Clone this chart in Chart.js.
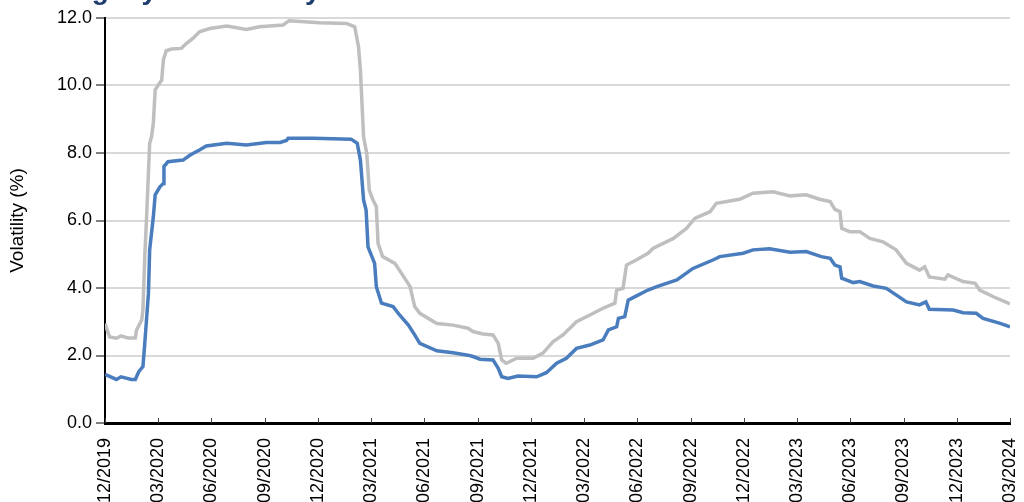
<!DOCTYPE html>
<html>
<head>
<meta charset="utf-8">
<script src="https://cdn.jsdelivr.net/npm/chart.js@4.4.1/dist/chart.umd.min.js"></script>
<style>
  html, body { margin: 0; padding: 0; background: #ffffff; overflow: hidden; }
  #wrap { width: 1024px; height: 502px; position: relative; }
</style>
</head>
<body>
<div id="wrap"><canvas id="c" width="1024" height="502"></canvas></div>
<script>
const titleText = 'Rolling 1-year volatility';
const yAxisTitle = 'Volatility (%)';
const tickLabels = ['12/2019','03/2020','06/2020','09/2020','12/2020','03/2021','06/2021','09/2021','12/2021','03/2022','06/2022','09/2022','12/2022','03/2023','06/2023','09/2023','12/2023','03/2024'];
const yTicks = [0, 2, 4, 6, 8, 10, 12];

const grayDates = ['2019-12-01','2019-12-09','2019-12-21','2019-12-29','2020-01-10','2020-01-23','2020-01-25','2020-02-03','2020-02-05','2020-02-08','2020-02-11','2020-02-16','2020-02-19','2020-02-22','2020-02-25','2020-03-01','2020-03-07','2020-03-10','2020-03-15','2020-03-24','2020-04-10','2020-04-19','2020-04-30','2020-05-11','2020-05-29','2020-06-27','2020-07-31','2020-08-23','2020-10-02','2020-10-10','2020-10-13','2020-12-04','2021-01-20','2021-02-03','2021-02-09','2021-02-12','2021-02-17','2021-02-22','2021-02-26','2021-03-04','2021-03-10','2021-03-13','2021-03-21','2021-04-11','2021-04-22','2021-05-07','2021-05-15','2021-05-24','2021-06-22','2021-07-20','2021-08-15','2021-08-24','2021-09-10','2021-09-27','2021-10-06','2021-10-12','2021-10-20','2021-11-07','2021-12-05','2021-12-22','2022-01-09','2022-01-26','2022-02-17','2022-03-11','2022-04-03','2022-04-23','2022-04-26','2022-05-07','2022-05-13','2022-05-30','2022-06-19','2022-06-28','2022-08-02','2022-08-25','2022-09-08','2022-10-04','2022-10-15','2022-11-24','2022-12-17','2023-01-21','2023-02-18','2023-03-17','2023-04-09','2023-04-27','2023-05-05','2023-05-14','2023-05-17','2023-05-31','2023-06-17','2023-07-04','2023-07-27','2023-08-19','2023-09-06','2023-09-28','2023-10-07','2023-10-15','2023-11-11','2023-11-16','2023-12-12','2024-01-02','2024-01-10','2024-02-03','2024-03-01'];
const grayValues = [2.95,2.55,2.51,2.58,2.52,2.52,2.75,3.05,3.35,4.93,6.11,8.29,8.48,8.88,9.87,10.01,10.16,10.76,11.03,11.08,11.10,11.25,11.40,11.59,11.69,11.76,11.66,11.74,11.79,11.89,11.92,11.86,11.84,11.74,11.15,10.46,8.48,7.99,6.90,6.61,6.41,5.32,4.93,4.73,4.44,4.04,3.45,3.25,2.95,2.90,2.81,2.71,2.64,2.61,2.36,1.87,1.77,1.92,1.92,2.07,2.41,2.61,3.00,3.20,3.40,3.55,3.94,3.99,4.68,4.83,5.03,5.18,5.47,5.77,6.06,6.26,6.51,6.63,6.81,6.85,6.73,6.76,6.63,6.56,6.33,6.26,5.77,5.67,5.67,5.47,5.37,5.13,4.73,4.53,4.63,4.33,4.26,4.39,4.19,4.14,3.94,3.74,3.53];

const blueDates = ['2019-12-01','2019-12-21','2019-12-29','2020-01-16','2020-01-23','2020-01-29','2020-02-05','2020-02-08','2020-02-14','2020-02-16','2020-02-22','2020-02-25','2020-03-04','2020-03-10','2020-03-11','2020-03-18','2020-04-13','2020-04-25','2020-05-11','2020-05-23','2020-06-27','2020-07-31','2020-09-04','2020-09-27','2020-10-08','2020-10-11','2020-11-23','2021-01-28','2021-02-07','2021-02-12','2021-02-17','2021-02-21','2021-02-24','2021-03-07','2021-03-10','2021-03-19','2021-04-08','2021-04-19','2021-05-04','2021-05-15','2021-05-24','2021-06-22','2021-07-20','2021-08-15','2021-08-24','2021-09-05','2021-09-27','2021-10-06','2021-10-12','2021-10-23','2021-11-09','2021-12-11','2021-12-28','2022-01-15','2022-02-01','2022-02-17','2022-03-11','2022-04-03','2022-04-12','2022-04-26','2022-04-29','2022-05-10','2022-05-16','2022-06-02','2022-06-19','2022-07-04','2022-08-08','2022-09-05','2022-10-09','2022-10-21','2022-11-30','2022-12-17','2023-01-15','2023-02-18','2023-03-17','2023-04-12','2023-04-27','2023-05-05','2023-05-14','2023-05-17','2023-06-06','2023-06-17','2023-07-10','2023-08-02','2023-09-06','2023-09-28','2023-10-09','2023-10-15','2023-11-25','2023-12-12','2024-01-04','2024-01-16','2024-02-14','2024-03-01'];
const blueValues = [1.44,1.29,1.37,1.29,1.29,1.52,1.67,2.36,3.84,5.13,6.11,6.76,7.00,7.10,7.60,7.74,7.79,7.94,8.09,8.21,8.29,8.24,8.31,8.31,8.37,8.44,8.44,8.41,8.29,7.79,6.61,6.31,5.22,4.73,4.04,3.55,3.45,3.20,2.90,2.61,2.36,2.14,2.08,2.01,1.97,1.89,1.87,1.62,1.37,1.32,1.39,1.37,1.49,1.77,1.92,2.21,2.31,2.46,2.76,2.85,3.10,3.15,3.64,3.79,3.94,4.04,4.24,4.58,4.83,4.93,5.03,5.13,5.16,5.06,5.08,4.93,4.88,4.68,4.63,4.29,4.16,4.19,4.06,3.99,3.59,3.50,3.59,3.37,3.35,3.27,3.25,3.10,2.95,2.85];

// months since 12/2019
function monthOffset(s) {
  const [y, m, d] = s.split('-').map(Number);
  const dim = new Date(Date.UTC(y, m, 0)).getUTCDate();
  return (y - 2019) * 12 + (m - 12) + (d - 1) / dim;
}
function toPoints(dates, vals) {
  return dates.map((d, i) => ({ x: monthOffset(d), y: vals[i] }));
}

const FONT = "'Liberation Sans', Arial, sans-serif";

const innerTicks = {
  id: 'innerTicks',
  afterDraw(chart) {
    const ctx = chart.ctx;
    const xs = chart.scales.x;
    const bottom = chart.chartArea.bottom;
    ctx.save();
    ctx.strokeStyle = '#404040';
    ctx.lineWidth = 1;
    xs.ticks.forEach((t, i) => {
      const px = Math.round(xs.getPixelForTick(i)) + 0.5;
      ctx.beginPath();
      ctx.moveTo(px, bottom - 5);
      ctx.lineTo(px, bottom);
      ctx.stroke();
    });
    // title, mostly cut off at top edge
    ctx.fillStyle = '#1f3c6e';
    ctx.font = "bold 28px " + FONT;
    ctx.textBaseline = 'alphabetic';
    ctx.textAlign = 'left';
    ctx.fillText(titleText, 14, -1);
    ctx.restore();
  }
};

new Chart(document.getElementById('c'), {
  type: 'line',
  data: {
    datasets: [
      {
        label: 'Series 1',
        data: toPoints(blueDates, blueValues),
        borderColor: '#4a7dbe',
        borderWidth: 3.5,
        pointRadius: 0,
        tension: 0,
        fill: false,
        order: 1
      },
      {
        label: 'Series 2',
        data: toPoints(grayDates, grayValues),
        borderColor: '#bfbfbf',
        borderWidth: 3.5,
        pointRadius: 0,
        tension: 0,
        fill: false,
        order: 2
      }
    ]
  },
  options: {
    responsive: false,
    animation: false,
    layout: { padding: { top: 18, right: 14, bottom: 0, left: 0 } },
    plugins: {
      legend: { display: false },
      tooltip: { enabled: false },
      title: { display: false }
    },
    scales: {
      x: {
        type: 'linear',
        min: 0,
        max: 51,
        afterBuildTicks(scale) {
          scale.ticks = tickLabels.map((_, i) => ({ value: i * 3 }));
        },
        afterFit(scale) {
          scale.height = 79;
          scale.paddingLeft = 0;
          scale.paddingRight = 0;
        },
        grid: { drawOnChartArea: false, drawTicks: false },
        border: { display: true, color: '#000000', width: 3 },
        ticks: {
          autoSkip: false,
          minRotation: 90,
          maxRotation: 90,
          padding: 15,
          color: '#000000',
          font: { family: FONT, size: 18 },
          callback(value) {
            const idx = Math.round(value / 3);
            return tickLabels[idx] !== undefined ? tickLabels[idx] : '';
          }
        }
      },
      y: {
        min: 0,
        max: 12,
        afterBuildTicks(scale) {
          scale.ticks = yTicks.map(v => ({ value: v }));
        },
        afterFit(scale) { scale.width = 105; },
        grid: {
          color: '#d9d9d9',
          lineWidth: 2,
          tickColor: '#000000',
          tickLength: 9,
          tickWidth: 1
        },
        border: { display: true, color: '#000000', width: 2 },
        ticks: {
          padding: 4,
          color: '#000000',
          font: { family: FONT, size: 18 },
          callback(value) { return Number(value).toFixed(1); }
        },
        title: {
          display: true,
          text: yAxisTitle,
          color: '#000000',
          font: { family: FONT, size: 19 },
          padding: { top: 6, bottom: 0 }
        }
      }
    }
  },
  plugins: [innerTicks]
});
</script>
</body>
</html>
